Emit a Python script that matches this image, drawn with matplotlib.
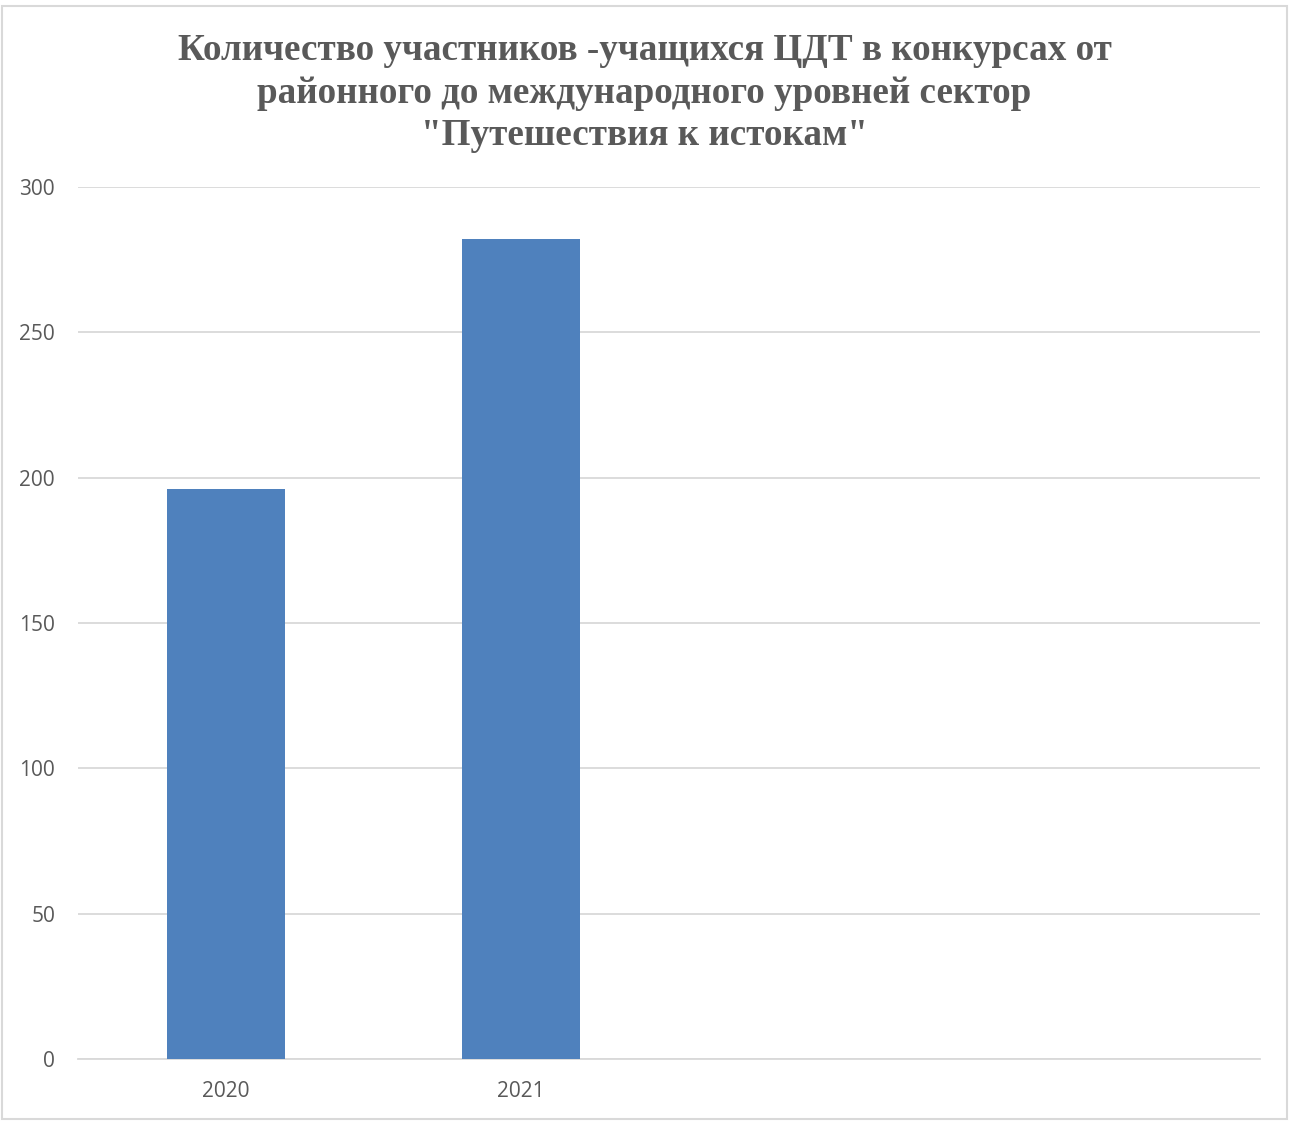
import matplotlib.pyplot as plt
from matplotlib.patches import Rectangle
import numpy as np

CATEGORIES = ["2020", "2021", "", ""]
VALUES = [196, 282, np.nan, np.nan]
Y_TICKS = [0, 50, 100, 150, 200, 250, 300]
TITLE = ("Количество участников -учащихся ЦДТ в конкурсах от\n"
         "районного до международного уровней сектор\n"
         "\"Путешествия к истокам\"")

BAR_COLOR = "#4f81bd"
TEXT_GRAY = "#595959"
GRID_GRAY = "#d9d9d9"

fig = plt.figure(figsize=(12.89, 11.21), dpi=100)
ax = fig.add_axes([78 / 1289, 1 - 1059 / 1121, (1260 - 78) / 1289, (1059 - 187) / 1121])

x = np.arange(len(CATEGORIES))
ax.bar(x, VALUES, width=0.4, color=BAR_COLOR, zorder=3)

ax.set_xlim(-0.5, len(CATEGORIES) - 0.5)
ax.set_ylim(0, 300)
ax.set_yticks(Y_TICKS)
ax.set_xticks(x)
ax.set_xticklabels(CATEGORIES)
ax.tick_params(axis="both", length=0, labelsize=15, labelcolor=TEXT_GRAY)
ax.tick_params(axis="x", pad=16)
ax.tick_params(axis="y", pad=16.5)
for lab in ax.get_xticklabels() + ax.get_yticklabels():
    lab.set_family(["Open Sans", "DejaVu Sans"])

ax.grid(True, axis="y", color=GRID_GRAY, linewidth=1.3, zorder=0)
for side in ["top", "right", "left"]:
    ax.spines[side].set_visible(False)
ax.spines["bottom"].set_color(GRID_GRAY)
ax.spines["bottom"].set_linewidth(1.3)

fig.text(0.5, 1 - 33.5 / 1121, TITLE, ha="center", va="top", fontsize=26.7,
         fontweight="bold", color=TEXT_GRAY, family="Liberation Serif",
         linespacing=1.27)

fig.patches.append(Rectangle((2 / 1289, 2 / 1121), 1 - 4 / 1289, 1 - 8 / 1121,
                             transform=fig.transFigure, fill=False,
                             edgecolor=GRID_GRAY, linewidth=1.5))

fig.savefig("out.png", dpi=100)
